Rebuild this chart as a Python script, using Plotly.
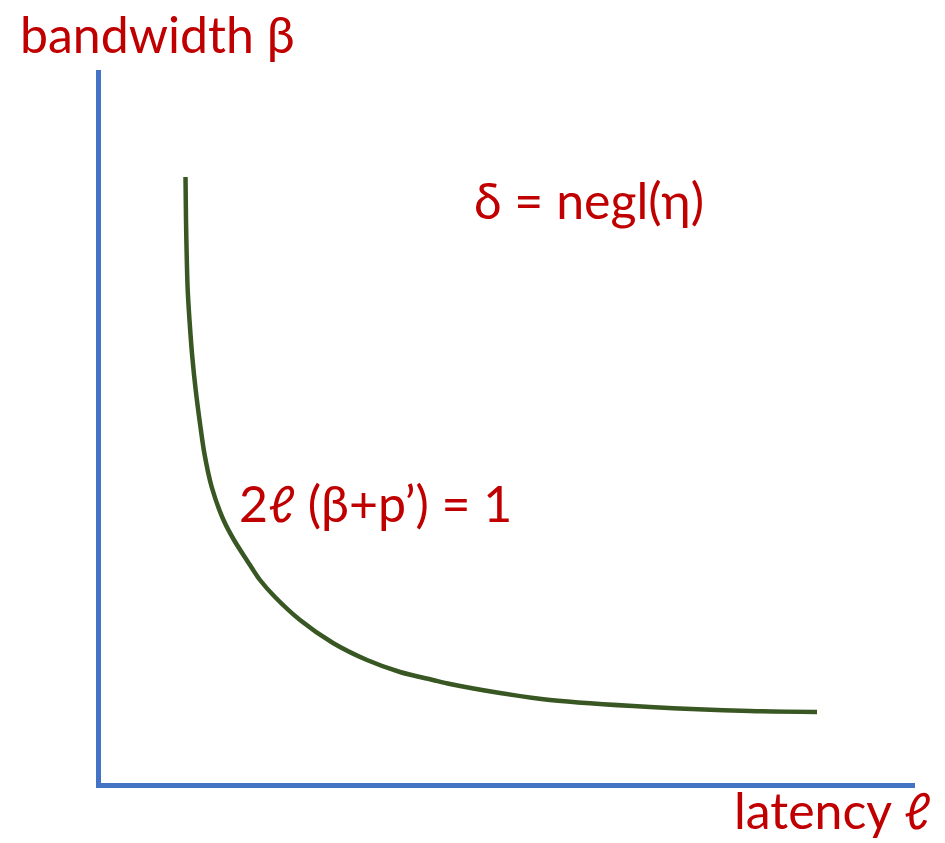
import plotly.graph_objects as go

# Curve readings (arbitrary units: latency along x, bandwidth along y)
latency = [87.5, 88, 88.8, 89.7, 91.7, 94.3, 97.7, 102.2, 106.3, 113.7, 125.5, 136, 148.7,
           162, 177, 202, 235, 269, 302, 335, 352, 402, 452, 552, 652, 719]
bandwidth = [609, 566, 526, 496, 463, 429, 396, 361, 333, 299, 266, 246, 226,
             206, 189, 166, 143, 126, 114, 106, 102, 93, 86, 79, 75, 74]

x_label = "latency ℓ"
y_label = "bandwidth β"
curve_label = "2ℓ (β+p’) = 1"
delta_label = "δ = negl(η)"

RED = "#C00000"
GREEN = "#385723"
BLUE = "#4472C4"
FONT = "Lato"
FS = 50

fig = go.Figure()
fig.add_trace(go.Scatter(
    x=latency, y=bandwidth, mode="lines",
    line=dict(color=GREEN, width=4.5, shape="spline", smoothing=0.8),
    hoverinfo="skip", showlegend=False,
))

W, H = 945, 843
L, R, T, B = 101, 30, 70, 60

fig.update_xaxes(range=[3, 817], showline=True, linecolor=BLUE, linewidth=5,
                 showgrid=False, zeroline=False, showticklabels=False, ticks="")
fig.update_yaxes(range=[3, 716], showline=True, linecolor=BLUE, linewidth=5,
                 showgrid=False, zeroline=False, showticklabels=False, ticks="")

def px(xp, yp):
    return (xp - L) / (W - L - R), (H - B - yp) / (H - T - B)

def note(text, xp, yp, anchor="left"):
    x, y = px(xp, yp)
    fig.add_annotation(text=text, x=x, y=y, xref="paper", yref="paper",
                       xanchor=anchor, yanchor="middle", showarrow=False,
                       font=dict(family=FONT, size=FS, color=RED))

note(y_label, 18, 34)
note(delta_label, 472, 200)
note(curve_label, 237, 503)
note(x_label, 933, 810, anchor="right")

fig.update_layout(
    width=W, height=H,
    margin=dict(l=L, r=R, t=T, b=B, pad=0),
    plot_bgcolor="white", paper_bgcolor="white",
)

fig.write_html("out.html", config={"displayModeBar": False},
               post_script="document.body.style.margin='0';")
